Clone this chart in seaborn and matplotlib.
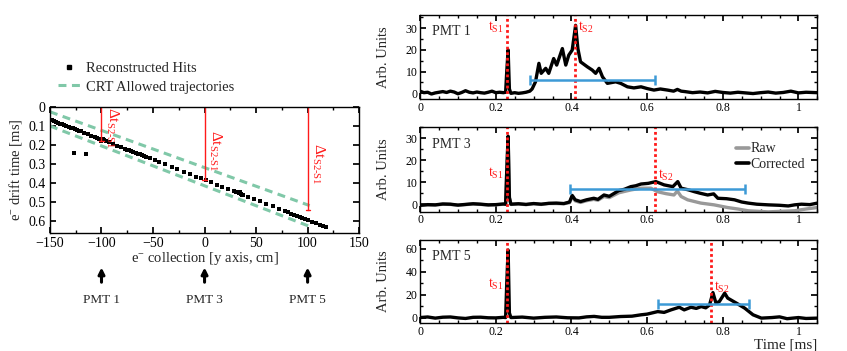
import numpy as np
import pandas as pd
import matplotlib
matplotlib.use("Agg")
import matplotlib.pyplot as plt
import matplotlib.ticker as mticker
from matplotlib.lines import Line2D
import seaborn as sns

# reconstructed hits (y axis cm, drift time ms)
hit_x = [-148, -146, -144, -142, -140, -138, -136, -134, -132, -130, -128, -126, -124,
         -122, -120, -117, -113, -110, -106, -104, -102, -100, -99, -98, -96, -93, -89,
         -85, -81, -77, -75, -73, -71, -69, -67, -65, -63, -61, -59, -57, -53, -48, -44,
         -38, -32, -27, -20, -14, -8, -3, 1, 6, 12, 17, 23, 29, 31, 33, 34, 35, 36, 37,
         42, 48, 54, 60, 66, 72, 78, 81, 84, 87, 90, 93, 95, 97, 100, 104, 108, 112, 115,
         118, -127, -115]
hit_t = [0.070, 0.074, 0.078, 0.083, 0.087, 0.091, 0.095, 0.100, 0.104, 0.108, 0.112,
         0.117, 0.121, 0.125, 0.129, 0.136, 0.144, 0.151, 0.159, 0.163, 0.168, 0.178,
         0.170, 0.176, 0.180, 0.187, 0.195, 0.204, 0.212, 0.220, 0.225, 0.229, 0.233,
         0.237, 0.242, 0.246, 0.250, 0.254, 0.259, 0.263, 0.271, 0.282, 0.290, 0.303,
         0.316, 0.327, 0.341, 0.354, 0.367, 0.377, 0.386, 0.396, 0.409, 0.420, 0.433,
         0.445, 0.449, 0.454, 0.450, 0.458, 0.462, 0.462, 0.473, 0.486, 0.498, 0.511,
         0.524, 0.536, 0.549, 0.555, 0.562, 0.568, 0.575, 0.581, 0.585, 0.589, 0.596,
         0.604, 0.613, 0.621, 0.628, 0.634, 0.245, 0.250]

# CRT allowed band edges
crt_x = [-150, 102]
crt_upper = [0.025, 0.52]
crt_lower = [0.100, 0.63]

# PMT positions and S2-S1 delays
pmt_names = ["PMT 1", "PMT 3", "PMT 5"]
pmt_pos = [-100, 0, 100]
pmt_dt = [0.18, 0.385, 0.545]

# waveforms
t1 = [0, 0.01, 0.02, 0.03, 0.04, 0.05, 0.06, 0.07, 0.08, 0.09, 0.10, 0.11, 0.12, 0.13,
      0.14, 0.15, 0.16, 0.17, 0.18, 0.19, 0.20, 0.21, 0.22, 0.226, 0.229, 0.2326, 0.236,
      0.24, 0.25, 0.26, 0.27, 0.28, 0.29, 0.296, 0.305, 0.314, 0.320, 0.332, 0.340,
      0.353, 0.361, 0.376, 0.385, 0.393, 0.402, 0.411, 0.417, 0.424, 0.442, 0.455,
      0.464, 0.473, 0.482, 0.495, 0.517, 0.530, 0.548, 0.565, 0.584, 0.60, 0.618, 0.635,
      0.654, 0.67, 0.68, 0.69, 0.70, 0.72, 0.74, 0.76, 0.78, 0.80, 0.82, 0.84, 0.86,
      0.88, 0.90, 0.92, 0.94, 0.96, 0.98, 1.00, 1.02, 1.05]
w1 = [1.0, 0.3, 0.5, -0.3, 0.2, 0.5, 0.8, 0.4, 1.0, 0.6, -0.2, 0.4, 1.2, 0.5, 0.2, 0.6,
      0.3, 0.1, 0.5, 1.0, 0.3, 0.5, 0.3, 0.5, 10, 20, 2, 0.0, 0.3, 0.0, 0.2, 0.5, 1.0,
      2.0, 5.3, 13.8, 9.2, 11.5, 9.2, 16, 13, 20.6, 13, 17.6, 19.9, 31.3, 20.6, 14.5,
      12.2, 10.7, 9.2, 11.5, 7.6, 4.6, 5.3, 4.6, 3.0, 2.5, 3.0, 2.2, 1.5, 2.0, 1.5, 1.0,
      1.8, 1.0, 0.8, 0.3, 0.6, 0.2, 0.9, 0.4, 0.1, 0.5, 0.2, -0.1, 0.3, 0.6, 0.1, 0.4,
      1.0, 0.2, 0.5, 0.3]

t3 = [0, 0.02, 0.04, 0.06, 0.08, 0.10, 0.12, 0.14, 0.16, 0.18, 0.20, 0.22, 0.226, 0.229,
      0.2326, 0.236, 0.24, 0.26, 0.28, 0.30, 0.32, 0.34, 0.36, 0.38, 0.395, 0.402, 0.41,
      0.424, 0.44, 0.459, 0.47, 0.486, 0.50, 0.525, 0.54, 0.557, 0.57, 0.584, 0.603,
      0.623, 0.645, 0.668, 0.681, 0.690, 0.71, 0.725, 0.74, 0.760, 0.776, 0.787, 0.81,
      0.831, 0.85, 0.867, 0.89, 0.920, 0.95, 0.973, 0.99, 1.008, 1.03, 1.05]
w3_corr = [-0.5, -0.2, -0.3, 0.1, 0.0, -0.4, -0.1, 0.2, 0.0, -0.3, -0.2, 0.1, 0.0, 15,
           31, 3, 0.0, 0.2, -0.1, 0.3, 0.0, 0.4, 0.5, 0.3, 1.0, 4.0, 2.0, 1.2, 2.0, 2.7,
           2.2, 4.2, 3.6, 6.2, 6.8, 8.0, 8.4, 9.2, 9.5, 10.3, 8.8, 8.0, 10.3, 7.3, 6.5,
           5.7, 5.0, 4.2, 4.7, 2.7, 2.5, 2.0, 1.0, 0.5, 0.0, -0.3, -0.5, -0.8, -0.3, 0.0,
           -0.2, 0.5]
t3_raw = [0, 0.02, 0.04, 0.06, 0.08, 0.10, 0.12, 0.14, 0.16, 0.18, 0.20, 0.22, 0.226,
          0.229, 0.2326, 0.236, 0.24, 0.26, 0.28, 0.30, 0.32, 0.34, 0.36, 0.38, 0.395,
          0.402, 0.41, 0.424, 0.44, 0.459, 0.47, 0.486, 0.50, 0.525, 0.557, 0.584, 0.610,
          0.627, 0.65, 0.671, 0.68, 0.69, 0.707, 0.742, 0.777, 0.812, 0.84, 0.867, 0.92,
          0.99, 1.02, 1.05]
w3_raw = [-0.6, -0.3, -0.4, 0.0, -0.1, -0.5, -0.2, 0.1, -0.1, -0.4, -0.3, 0.0, -0.1, 15,
          30, 3, -0.1, 0.1, -0.2, 0.2, -0.1, 0.3, 0.3, 0.2, 0.7, 3.5, 1.5, 0.8, 1.6, 2.2,
          1.8, 3.5, 3.0, 5.2, 6.5, 7.3, 7.3, 5.7, 4.8, 4.2, 6.0, 3.5, 2.0, 0.5, -0.3,
          -1.5, -2.2, -3.0, -3.5, -3.0, -2.2, -1.5]

t5 = [0, 0.02, 0.04, 0.06, 0.08, 0.10, 0.12, 0.14, 0.16, 0.18, 0.20, 0.22, 0.226, 0.229,
      0.2326, 0.236, 0.24, 0.27, 0.30, 0.33, 0.36, 0.39, 0.42, 0.44, 0.46, 0.48, 0.50,
      0.53, 0.56, 0.584, 0.60, 0.628, 0.645, 0.663, 0.685, 0.698, 0.716, 0.73, 0.743,
      0.755, 0.765, 0.774, 0.782, 0.791, 0.805, 0.813, 0.836, 0.858, 0.880, 0.902, 0.93,
      0.95, 0.97, 1.00, 1.02, 1.05]
w5 = [0.0, 0.5, -0.5, 0.3, 0.5, -0.3, -0.8, 0.2, 0.3, -0.2, -0.3, 0.2, 0.0, 30, 59, 4,
      0.0, 0.4, -0.5, 0.2, 0.5, -0.2, -0.3, 0.6, 1.0, 0.2, 0.2, 0.9, 1.2, 2.4, 3.0, 5.2,
      4.5, 6.7, 9.0, 6.7, 9.0, 8.0, 9.6, 8.5, 11.0, 21.8, 12.6, 14.0, 21.3, 17.0, 12.6,
      8.2, 2.4, -0.5, 0.0, 0.6, -1.0, 0.0, -0.8, -0.5]

# integration windows and S1/S2 times
win_start = [0.29, 0.395, 0.63]
win_end = [0.62, 0.86, 0.87]
win_y = [6, 7, 12]
ts1 = [0.23, 0.23, 0.23]
ts2 = [0.41, 0.62, 0.77]

sns.set_theme(style="ticks")
plt.rcParams["font.family"] = ["Liberation Serif", "DejaVu Serif"]
plt.rcParams["mathtext.fontset"] = "custom"
plt.rcParams["mathtext.rm"] = "Liberation Serif"
plt.rcParams["mathtext.it"] = "Liberation Serif:italic"
plt.rcParams["axes.linewidth"] = 1.0
plt.rcParams["axes.edgecolor"] = "black"

RED = "#ff1a1a"
GREEN = "#80c8a8"
BLUE = "#3d9ad6"

fig = plt.figure(figsize=(8.47, 3.51), dpi=100)


def style_ticks(ax, size=8.5, pad=3):
    ax.tick_params(which="both", direction="in", top=True, right=True, labelsize=size,
                   colors="black", pad=pad)
    ax.tick_params(which="major", length=4)
    ax.tick_params(which="minor", length=2)


# ---- left: hits vs position
axl = fig.add_axes([0.059, 0.336, 0.365, 0.359])
for edge in (crt_upper, crt_lower):
    sns.lineplot(x=crt_x, y=edge, ax=axl, color=GREEN, lw=2.2)
    axl.lines[-1].set_dashes([2.6, 1.8])
sns.scatterplot(x=hit_x, y=hit_t, ax=axl, color="black", marker="s", s=5,
                linewidth=0, legend=False)
for x, dt in zip(pmt_pos, pmt_dt):
    axl.plot([x, x], [0, dt], color=RED, lw=1.0)
    axl.plot([x - 2, x + 2], [dt, dt], color=RED, lw=1.0)
label_y = [0.0, 0.12, 0.19]
for x, ly in zip(pmt_pos, label_y):
    axl.text(x + 2, ly, r"$\Delta$t$_{\mathrm{S2\text{-}S1}}$", color=RED, fontsize=11,
             rotation=-90, ha="left", va="top")
axl.set_xlim(-150, 150)
axl.set_ylim(0.665, 0)
axl.xaxis.set_major_locator(mticker.MultipleLocator(50))
axl.xaxis.set_minor_locator(mticker.MultipleLocator(25))
axl.yaxis.set_major_locator(mticker.MultipleLocator(0.1))
axl.yaxis.set_major_formatter(mticker.FuncFormatter(lambda v, p: "%g" % round(v, 2)))
style_ticks(axl, 10)
axl.set_xlabel(r"e$^{-}$ collection [y axis, cm]", fontsize=10.5, labelpad=0)
axl.set_ylabel(r"e$^{-}$ drift time [ms]", fontsize=10.5, labelpad=3)

handles = [Line2D([], [], color="black", marker="s", ls="none", markersize=3.5),
           Line2D([], [], color=GREEN, ls=(0, (2.6, 1.8)), lw=2.2)]
fig.legend(handles, ["Reconstructed Hits", "CRT Allowed trajectories"],
           loc="upper left", bbox_to_anchor=(0.062, 0.84), frameon=False,
           fontsize=10.5, handlelength=1.5, handletextpad=0.4, labelspacing=0.35,
           borderaxespad=0)

for name, x in zip(pmt_names, pmt_pos):
    axl.annotate("", xy=(x, 0.238), xytext=(x, 0.196),
                 xycoords=("data", "figure fraction"),
                 textcoords=("data", "figure fraction"),
                 arrowprops=dict(arrowstyle="-|>", lw=2.2, color="black",
                                 mutation_scale=9, shrinkA=0, shrinkB=0),
                 annotation_clip=False)
    axl.annotate(name, xy=(x, 0.145), xycoords=("data", "figure fraction"),
                 ha="center", va="center", fontsize=9.5, annotation_clip=False)

# ---- right: waveforms
panels = [
    ([0.496, 0.718, 0.469, 0.239], (-2.6, 36), 10, 5, "PMT 1"),
    ([0.496, 0.397, 0.469, 0.240], (-3.4, 35), 10, 5, "PMT 3"),
    ([0.496, 0.079, 0.469, 0.238], (-5, 68), 20, 10, "PMT 5"),
]
waves = [(t1, w1), (t3, w3_corr), (t5, w5)]
s1_pos = [(0.222, 30.5), (0.222, 14), (0.222, 29)]
s2_pos = [(0.418, 30.5), (0.628, 13), (0.778, 26)]
axes_r = []
for i, (rect, ylim, maj, mnr, name) in enumerate(panels):
    ax = fig.add_axes(rect)
    axes_r.append(ax)
    if i == 1:
        sns.lineplot(x=t3_raw, y=w3_raw, ax=ax, color="#999999", lw=2.4,
                     estimator=None, sort=False)
    t, w = waves[i]
    sns.lineplot(x=t, y=w, ax=ax, color="black", lw=2.4, estimator=None, sort=False)
    for xv in (ts1[i], ts2[i]):
        ax.axvline(xv, color=RED, ls=(0, (1, 1)), lw=2)
    mid = (win_start[i] + win_end[i]) / 2
    half = (win_end[i] - win_start[i]) / 2
    ax.errorbar(mid, win_y[i], xerr=half, color=BLUE, lw=1.8, capsize=3.5,
                capthick=1.8)
    ax.text(s1_pos[i][0], s1_pos[i][1], r"t$_{\mathrm{S1}}$", color=RED, fontsize=10,
            ha="right", va="center")
    ax.text(s2_pos[i][0], s2_pos[i][1], r"t$_{\mathrm{S2}}$", color=RED, fontsize=10,
            ha="left", va="center")
    ax.text(0.03, 0.80, name, transform=ax.transAxes, fontsize=10, va="center")
    ax.set_xlim(0, 1.05)
    ax.set_ylim(*ylim)
    ax.xaxis.set_major_locator(mticker.MultipleLocator(0.2))
    ax.xaxis.set_minor_locator(mticker.MultipleLocator(0.05))
    ax.xaxis.set_major_formatter(mticker.FuncFormatter(lambda v, p: "%g" % round(v, 2)))
    ax.yaxis.set_major_locator(mticker.MultipleLocator(maj))
    ax.yaxis.set_minor_locator(mticker.MultipleLocator(mnr))
    style_ticks(ax, 8.5, pad=2)
    ax.set_ylabel("Arb. Units", fontsize=10.5, labelpad=4)
    ax.set_xlabel("")

axes_r[1].legend([Line2D([], [], color="#999999", lw=2.6),
                  Line2D([], [], color="black", lw=2.6)], ["Raw", "Corrected"],
                 loc="upper right", bbox_to_anchor=(1.0, 0.97), frameon=False,
                 fontsize=10, handlelength=0.9, handletextpad=0.1, labelspacing=0.15)
fig.text(0.965, 0.016, "Time [ms]", ha="right", va="center", fontsize=11)
for ax in axes_r:
    ax.yaxis.set_label_coords(-0.075, 0.5)

fig.savefig("out.png", dpi=100)
